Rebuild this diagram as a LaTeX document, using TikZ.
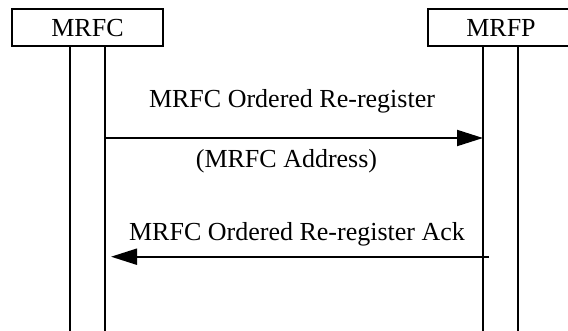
\documentclass[tikz,border=0pt]{standalone}
\usepackage{fontspec}
\setmainfont{Liberation Serif}
\usetikzlibrary{arrows.meta}
\begin{document}
\begin{tikzpicture}[x=1pt,y=-1pt,
  ent/.style={draw, line width=2pt, minimum height=37pt, inner sep=0pt, font=\fontsize{26}{30}\selectfont},
  life/.style={line width=2pt},
  msg/.style={line width=2pt, -{Triangle[length=26pt,width=16pt]}},
  lbl/.style={font=\fontsize{26}{30}\selectfont, inner sep=0pt, anchor=base}]
\useasboundingbox (0,0) rectangle (568,330);
\clip (0,0) rectangle (568,330);
\node[ent, minimum width=151pt] (mrfc) at (87.5,27.7) {MRFC};
\node[ent, minimum width=146pt] (mrfp) at (501,27.7) {MRFP};
\coordinate (c1t) at (70,46);  \coordinate (c1b) at (70,332);
\coordinate (c2t) at (105,46); \coordinate (c2b) at (105,332);
\coordinate (p1t) at (483,46); \coordinate (p1b) at (483,332);
\coordinate (p2t) at (518,46); \coordinate (p2b) at (518,332);
\draw[life] (c1t) -- (c1b);
\draw[life] (c2t) -- (c2b);
\draw[life] (p1t) -- (p1b);
\draw[life] (p2t) -- (p2b);
\coordinate (m1s) at (105,138); \coordinate (m1e) at (483,138);
\coordinate (m2s) at (489,256.7); \coordinate (m2e) at (111,256.7);
\draw[msg] (m1s) -- (m1e);
\draw[msg] (m2s) -- (m2e);
\node[lbl] (l1) at (292,107) {MRFC Ordered Re-register};
\node[lbl] (l2) at (286.5,167) {(MRFC Address)};
\node[lbl] (l3) at (297,240) {MRFC Ordered Re-register Ack};
\end{tikzpicture}
\end{document}
